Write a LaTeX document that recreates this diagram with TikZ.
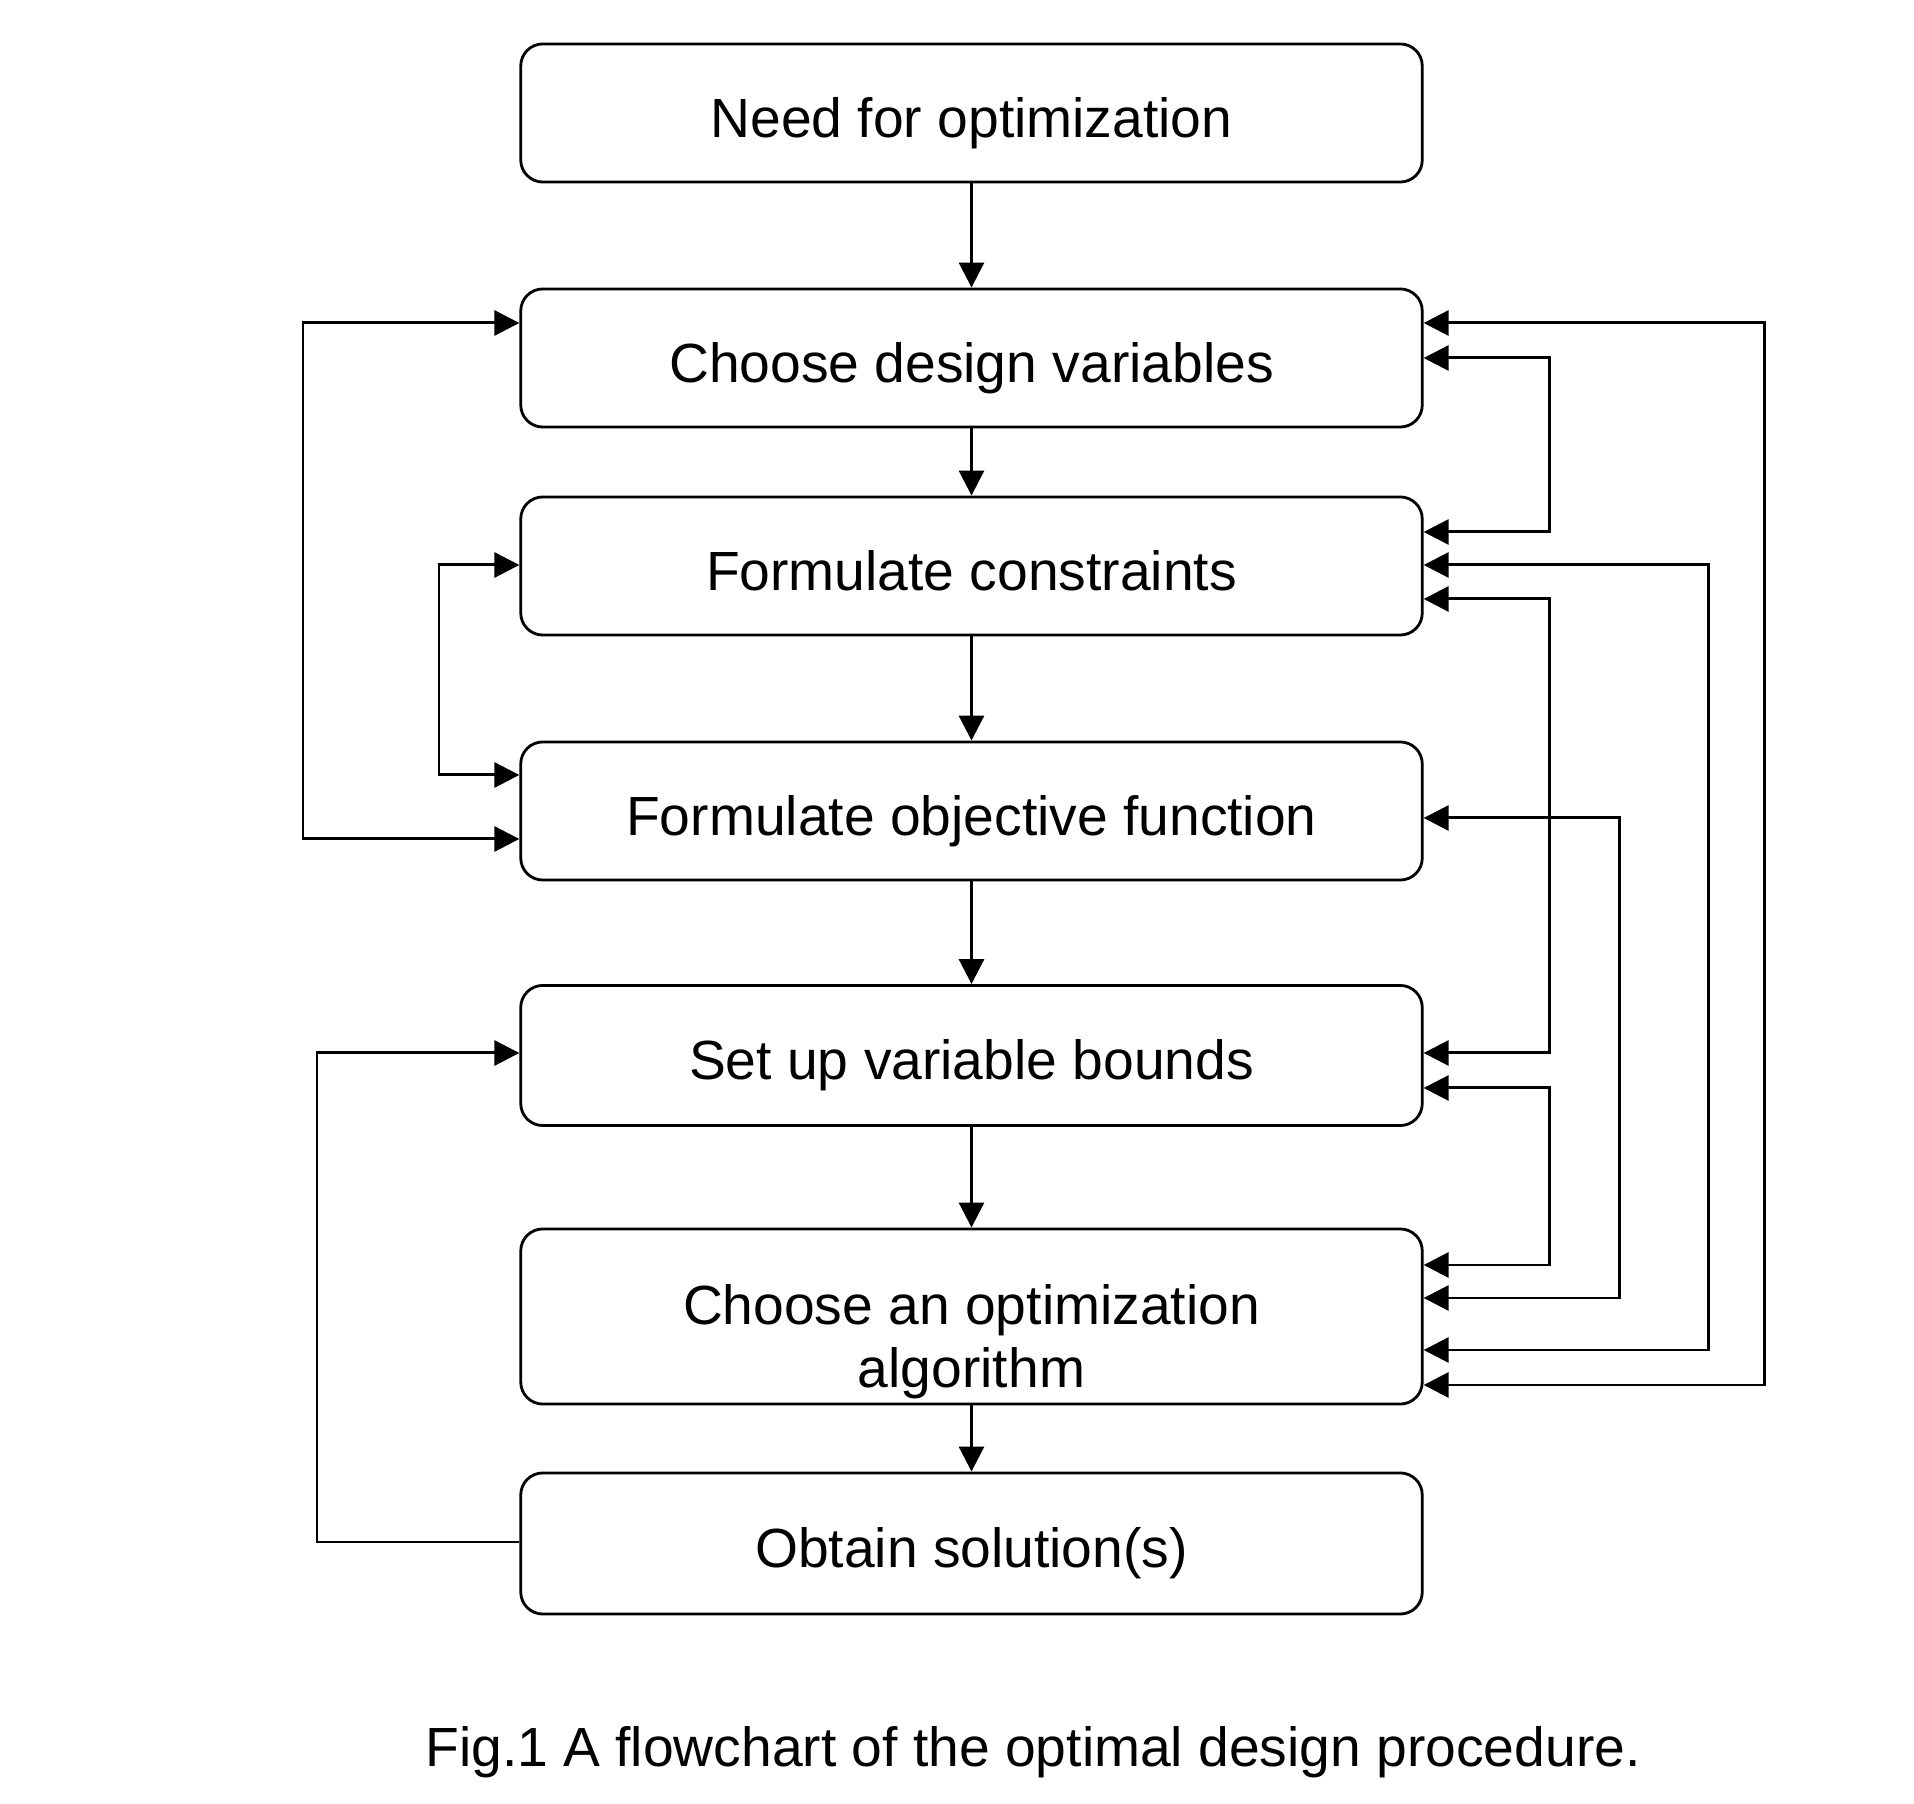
\documentclass[tikz,border=0pt]{standalone}
\usepackage{fontspec}
\setmainfont{Liberation Sans}
\usetikzlibrary{arrows.meta}
\begin{document}
\begin{tikzpicture}[x=0.01cm,y=-0.01cm,
  box/.style={draw, line width=0.8pt, rounded corners=0.22cm, minimum width=9.01cm,
    minimum height=1.38cm, inner sep=0pt, text height=0.48cm, text depth=0pt,
    font=\fontsize{15.7}{18}\selectfont},
  conn/.style={line width=0.85pt, -{Triangle[length=0.25cm,width=0.25cm]}},
  biconn/.style={line width=0.85pt, {Triangle[length=0.25cm,width=0.25cm]}-{Triangle[length=0.25cm,width=0.25cm]}},
]
\useasboundingbox (0,0) rectangle (1914,1804);

\node[box] (b1) at (971.5,113) {Need for optimization};
\node[box] (b2) at (971.5,358) {Choose design variables};
\node[box] (b3) at (971.5,566) {Formulate constraints};
\node[box] (b4) at (971.5,811) {Formulate objective function};
\node[box, minimum height=1.40cm] (b5) at (971.5,1055.5) {Set up variable bounds};
\node[box, minimum height=1.75cm] (b6) at (971.5,1316.5) {};
\node[align=center, inner sep=0pt, font=\fontsize{15.7}{17.9}\selectfont] (b6t) at (971.5,1342) {Choose an optimization\\algorithm};
\node[box, minimum height=1.41cm] (b7) at (971.5,1543.5) {Obtain solution(s)};

\node[anchor=base, inner sep=0pt, font=\fontsize{15.7}{18}\selectfont] (cap) at (1033,1767) {Fig.1 A flowchart of the optimal design procedure.};

% main downward flow
\draw[conn] (b1) -- (b2);
\draw[conn] (b2) -- (b3);
\draw[conn] (b3) -- (b4);
\draw[conn] (b4) -- (b5);
\draw[conn] (b5) -- (b6);
\draw[conn] (b6) -- (b7);

% left connectors
\draw[biconn] (b4.west |- 0,839) -- (303,839) -- (303,323) -- (b2.west |- 0,323);
\draw[biconn] (b4.west |- 0,775) -- (439,775) -- (439,565) -- (b3.west |- 0,565);
\draw[conn] (b7.west |- 0,1542) -- (317,1542) -- (317,1053) -- (b5.west |- 0,1053);

% right connectors
\draw[biconn] (b6.east |- 0,1385) -- (1764,1385) -- (1764,323) -- (b2.east |- 0,323);
\draw[biconn] (b2.east |- 0,358) -- (1549,358) -- (1549,532) -- (b3.east |- 0,532);
\draw[biconn] (b3.east |- 0,565) -- (1708,565) -- (1708,1350) -- (b6.east |- 0,1350);
\draw[biconn] (b3.east |- 0,599) -- (1549,599) -- (1549,1053) -- (b5.east |- 0,1053);
\draw[biconn] (b4.east |- 0,818) -- (1619,818) -- (1619,1298) -- (b6.east |- 0,1298);
\draw[biconn] (b5.east |- 0,1088) -- (1549,1088) -- (1549,1265) -- (b6.east |- 0,1265);
\end{tikzpicture}
\end{document}
